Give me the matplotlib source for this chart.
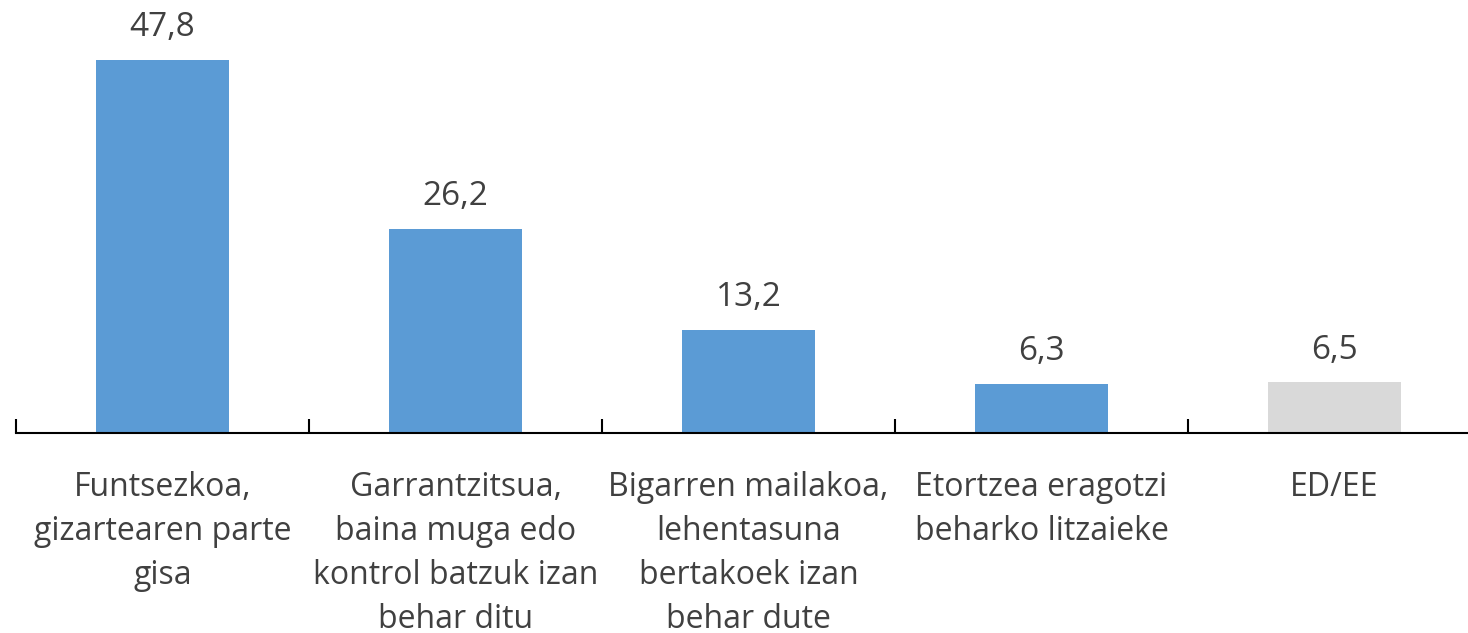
import matplotlib.pyplot as plt
import numpy as np

kategoriak = ["Funtsezkoa,\ngizartearen parte\ngisa",
              "Garrantzitsua,\nbaina muga edo\nkontrol batzuk izan\nbehar ditu",
              "Bigarren mailakoa,\nlehentasuna\nbertakoek izan\nbehar dute",
              "Etortzea eragotzi\nbeharko litzaieke",
              "ED/EE"]
balioak = [47.8, 26.2, 13.2, 6.3, 6.5]
koloreak = ['#5B9BD5', '#5B9BD5', '#5B9BD5', '#5B9BD5', '#D9D9D9']

plt.rcParams['font.family'] = ['Open Sans', 'DejaVu Sans']

fig = plt.figure(figsize=(14.68, 6.33), dpi=100)
ax = fig.add_axes([16/1468, 200/633, 1465/1468, 433/633])

x = np.arange(len(balioak))
ax.bar(x, balioak, width=0.455, color=koloreak)

for xi, v in zip(x, balioak):
    ax.text(xi, v + 2.0, f"{v:.1f}".replace('.', ','), ha='center', va='bottom',
            fontsize=24, color='#404040')

ax.set_xlim(-0.5, len(balioak) - 0.5)
ax.set_ylim(0, 55.5)
ax.set_xticks(x)
ax.set_xticklabels(kategoriak, fontsize=23, color='#404040', linespacing=1.45, va='top')
ax.tick_params(axis='x', which='major', length=0, pad=27)
ax.set_xticks(np.arange(-0.5, len(balioak)), minor=True)
ax.tick_params(axis='x', which='minor', direction='in', length=10, width=1.5, color='black')
ax.set_yticks([])
for s in ['top', 'right', 'left']:
    ax.spines[s].set_visible(False)
ax.spines['bottom'].set_linewidth(1.5)

plt.savefig('out.png', dpi=100)
